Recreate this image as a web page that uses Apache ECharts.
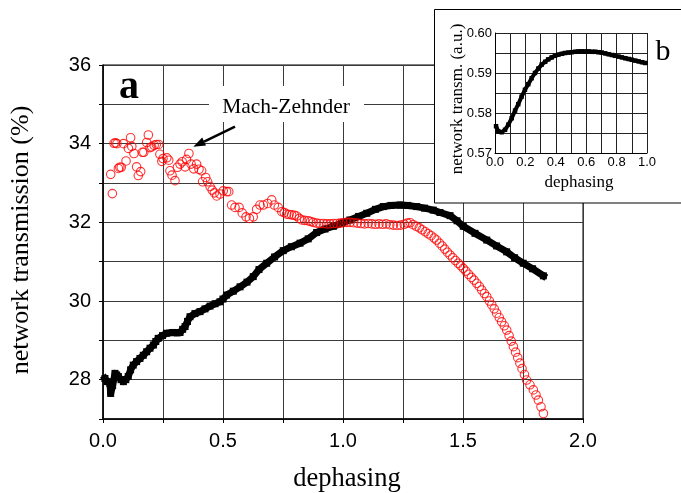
<!DOCTYPE html>
<html>
<head>
<meta charset="utf-8">
<script src="https://cdn.jsdelivr.net/npm/echarts@6/dist/echarts.min.js"></script>
<style>html,body{margin:0;padding:0;background:#fff}#c{width:681px;height:493px}</style>
</head>
<body>
<div id="c"></div>
<script>
// Main panel (a): Mach-Zehnder reference (red circles) and network (black squares)
const machZehnder = [[0.032,33.22],[0.039,32.73],[0.046,34.01],[0.052,34.02],[0.058,34.0],[0.064,33.37],[0.07,33.4],[0.076,33.4],[0.085,34.0],[0.096,33.56],[0.106,33.88],[0.115,34.15],[0.12,33.93],[0.129,33.75],[0.14,33.41],[0.147,33.19],[0.157,33.29],[0.164,33.78],[0.17,33.78],[0.182,34.03],[0.189,34.22],[0.196,33.9],[0.203,33.92],[0.213,33.96],[0.222,33.98],[0.232,33.98],[0.237,33.73],[0.245,33.55],[0.25,33.62],[0.266,33.64],[0.274,33.58],[0.279,33.31],[0.2875,33.2],[0.3,33.06],[0.31,33.4],[0.321,33.48],[0.33,33.54],[0.342,33.41],[0.348,33.6],[0.358,33.75],[0.367,33.48],[0.378,33.36],[0.39,33.48],[0.4,33.35],[0.411,33.31],[0.415,33.03],[0.428,33.14],[0.436,33.03],[0.446,32.91],[0.455,32.82],[0.464,32.75],[0.474,32.67],[0.4875,32.72],[0.501,32.8],[0.515,32.78],[0.524,32.78],[0.536,32.44],[0.55,32.38],[0.567,32.38],[0.58,32.24],[0.596,32.14],[0.61,32.1],[0.626,32.14],[0.64,32.33],[0.654,32.44],[0.668,32.44],[0.686,32.48],[0.703,32.57],[0.714,32.44],[0.73,32.38],[0.745,32.27],[0.755,32.25],[0.765,32.21],[0.775,32.2],[0.786,32.19],[0.797,32.18],[0.807,32.16],[0.818,32.1],[0.828,32.06],[0.84,32.05],[0.855,32.04],[0.865,32.02],[0.876,32.0],[0.89,31.98],[0.904,31.97],[0.918,31.97],[0.932,31.96],[0.946,31.96],[0.96,31.97],[0.974,31.97],[0.988,31.98],[1.0,31.99],[1.015,32.0],[1.03,32.0],[1.045,31.99],[1.06,31.98],[1.075,31.97],[1.09,31.96],[1.105,31.97],[1.12,31.96],[1.135,31.95],[1.15,31.96],[1.165,31.95],[1.18,31.96],[1.195,31.94],[1.21,31.93],[1.225,31.92],[1.24,31.93],[1.255,31.95],[1.268,31.98],[1.28,31.99],[1.292,31.94],[1.305,31.9],[1.318,31.86],[1.33,31.81],[1.343,31.76],[1.355,31.71],[1.367,31.66],[1.38,31.6],[1.39,31.55],[1.402,31.47],[1.413,31.4],[1.424,31.32],[1.435,31.24],[1.446,31.17],[1.457,31.1],[1.468,31.03],[1.48,30.96],[1.49,30.9],[1.501,30.83],[1.512,30.76],[1.523,30.68],[1.535,30.6],[1.546,30.53],[1.557,30.45],[1.568,30.37],[1.578,30.28],[1.589,30.19],[1.599,30.11],[1.61,30.0],[1.62,29.9],[1.63,29.8],[1.64,29.69],[1.651,29.58],[1.661,29.47],[1.672,29.37],[1.682,29.26],[1.692,29.12],[1.701,28.98],[1.71,28.84],[1.719,28.7],[1.728,28.56],[1.737,28.42],[1.746,28.28],[1.756,28.13],[1.765,27.99],[1.779,27.87],[1.793,27.74],[1.804,27.61],[1.814,27.48],[1.825,27.31],[1.835,27.14]];

const network = [[0.008,28.03],[0.018,27.95],[0.029,27.9],[0.032,27.65],[0.04,27.85],[0.05,28.16],[0.057,28.12],[0.064,28.08],[0.075,28.0],[0.085,27.95],[0.095,28.0],[0.105,28.08],[0.115,28.25],[0.126,28.37],[0.14,28.46],[0.154,28.54],[0.168,28.62],[0.182,28.71],[0.196,28.8],[0.21,28.88],[0.22,28.97],[0.23,29.05],[0.248,29.12],[0.265,29.18],[0.29,29.2],[0.31,29.19],[0.321,29.2],[0.332,29.28],[0.342,29.35],[0.352,29.48],[0.3625,29.6],[0.383,29.68],[0.404,29.73],[0.425,29.8],[0.446,29.87],[0.467,29.93],[0.4875,29.98],[0.5,30.05],[0.515,30.15],[0.543,30.25],[0.571,30.36],[0.6,30.48],[0.626,30.62],[0.65,30.8],[0.682,30.96],[0.715,31.12],[0.751,31.28],[0.785,31.38],[0.821,31.47],[0.855,31.58],[0.89,31.74],[0.925,31.83],[0.96,31.9],[0.995,31.98],[1.029,32.06],[1.065,32.15],[1.099,32.23],[1.135,32.33],[1.168,32.4],[1.2,32.43],[1.2375,32.44],[1.27,32.43],[1.307,32.4],[1.34,32.36],[1.376,32.31],[1.404,32.25],[1.446,32.17],[1.475,32.04],[1.501,31.9],[1.55,31.72],[1.599,31.55],[1.64,31.4],[1.682,31.25],[1.715,31.1],[1.751,30.96],[1.79,30.82],[1.835,30.64]];

// Inset panel (b)
const insetX = [0.007,0.022,0.044,0.066,0.088,0.11,0.132,0.153,0.175,0.197,0.219,0.241,0.263,0.285,0.307,0.33,0.35,0.373,0.395,0.417,0.44,0.46,0.483,0.505,0.527,0.55,0.57,0.593,0.615,0.637,0.66,0.68,0.703,0.725,0.747,0.77,0.79,0.813,0.835,0.857,0.88,0.9,0.923,0.945,0.967,0.99];
const insetY = [0.5767,0.5754,0.5752,0.5758,0.5771,0.5787,0.5806,0.5822,0.5841,0.5858,0.5872,0.5887,0.59,0.5911,0.5921,0.5928,0.5934,0.5939,0.5943,0.5946,0.5948,0.595,0.5951,0.5952,0.5953,0.5954,0.5954,0.5954,0.5954,0.5953,0.5953,0.5952,0.5951,0.5949,0.5947,0.5945,0.5943,0.5941,0.5939,0.5937,0.5935,0.5933,0.5931,0.5929,0.5927,0.5925];

const mainXTicks = ['0.0','0.5','1.0','1.5','2.0'];
const mainYTicks = ['28','30','32','34','36'];

const SANS = 'Liberation Sans';
const chart = echarts.init(document.getElementById('c'), null, {renderer:'canvas'});

const tip = [193.3,146.7], tail = [235,126.7];
const dx = tip[0]-tail[0], dy = tip[1]-tail[1], L = Math.hypot(dx,dy);
const ux = dx/L, uy = dy/L, hl = 12, hw = 4.5;
const bx = tip[0]-hl*ux, by = tip[1]-hl*uy;

chart.setOption({
  animation:false,
  backgroundColor:'#fff',
  grid:[
    {left:103, top:65, width:480, height:354, show:true, borderColor:'#000', borderWidth:1, backgroundColor:'transparent'},
    {left:495, top:33, width:152, height:120, z:60}
  ],
  xAxis:[
    {gridIndex:0, type:'value', min:0, max:2, interval:0.25,
     axisLine:{lineStyle:{color:'#000', width:1.5}},
     axisTick:{show:true, length:4, lineStyle:{color:'#000'}},
     splitLine:{show:true, lineStyle:{color:'#3a3a3a', width:1}},
     axisLabel:{margin:12, color:'#000', fontFamily:SANS, fontSize:20,
       formatter:v=>{const k=Math.round(v*2); return Math.abs(v*2-k)<1e-6 ? mainXTicks[k] : '';}}},
    {gridIndex:1, type:'value', min:0, max:1, interval:0.1, z:61,
     axisLine:{lineStyle:{color:'#000', width:1}},
     axisTick:{show:false},
     splitLine:{show:true, lineStyle:{color:'#222', width:1}},
     axisLabel:{margin:3, color:'#000', fontFamily:SANS, fontSize:13,
       formatter:v=>{const k=Math.round(v*10); return k%2===0 ? (k/10).toFixed(1) : '';}}}
  ],
  yAxis:[
    {gridIndex:0, type:'value', min:27, max:36, interval:1,
     axisLine:{show:true, lineStyle:{color:'#000', width:1.5}},
     axisTick:{show:true, length:4, lineStyle:{color:'#000'}},
     splitLine:{show:true, lineStyle:{color:'#3a3a3a', width:1}},
     axisLabel:{margin:12, color:'#000', fontFamily:SANS, fontSize:20,
       formatter:v=>{const r=Math.round(v); return (r%2===0) ? mainYTicks[(r-28)/2] : '';}}},
    {gridIndex:1, type:'value', min:0.57, max:0.60, interval:0.005, z:61,
     axisLine:{show:true, lineStyle:{color:'#000', width:1}},
     axisTick:{show:false},
     splitLine:{show:true, lineStyle:{color:'#222', width:1}},
     axisLabel:{margin:3, color:'#000', fontFamily:SANS, fontSize:13,
       formatter:v=>{const k=Math.round(v*1000); return k%10===0 ? (k/1000).toFixed(2) : '';}}}
  ],
  series:[
    {type:'line', xAxisIndex:0, yAxisIndex:0, data:network, z:3,
     lineStyle:{color:'#000', width:7, join:'round', cap:'square'}, symbol:'rect', symbolSize:7, showAllSymbol:true,
     itemStyle:{color:'#000'}},
    {type:'scatter', xAxisIndex:0, yAxisIndex:0, data:machZehnder, z:4,
     symbol:'circle', symbolSize:8.5,
     itemStyle:{color:'rgba(255,255,255,0)', borderColor:'#ff0000', borderWidth:1.1}},
    {type:'line', xAxisIndex:1, yAxisIndex:1, z:62,
     data:insetX.map((x,i)=>[x, insetY[i]]),
     lineStyle:{color:'#000', width:4, join:'round'}, symbol:'rect', symbolSize:4.5, showAllSymbol:true,
     itemStyle:{color:'#000'}}
  ],
  graphic:[
    {type:'rect', z:50, shape:{x:434.5, y:9.5, width:300, height:193.5},
     style:{fill:'#fff', stroke:'#000', lineWidth:1}},
    {type:'text', z:55, x:663, y:52, style:{text:'b', font:'30px "Liberation Serif"', fill:'#000', textAlign:'center', textVerticalAlign:'middle'}},
    {type:'text', z:55, x:458, y:99, rotation:Math.PI/2, style:{text:'network transm. (a.u.)', font:'17px "Liberation Serif"', fill:'#000', textAlign:'center', textVerticalAlign:'middle'}},
    {type:'text', z:55, x:579, y:183, style:{text:'dephasing', font:'17px "Liberation Serif"', fill:'#000', textAlign:'center', textVerticalAlign:'middle'}},
    {type:'text', z:20, x:129, y:88, style:{text:'a', font:'bold 40px "Liberation Serif"', fill:'#000', textAlign:'center', textVerticalAlign:'middle'}},
    {type:'rect', z:20, shape:{x:209, y:86, width:155, height:36}, style:{fill:'#fff'}},
    {type:'text', z:21, x:286, y:107, style:{text:'Mach-Zehnder', font:'21.5px "Liberation Serif"', fill:'#000', textAlign:'center', textVerticalAlign:'middle'}},
    {type:'line', z:21, shape:{x1:tail[0], y1:tail[1], x2:bx, y2:by}, style:{stroke:'#000', lineWidth:2.5}},
    {type:'polygon', z:21, shape:{points:[[tip[0],tip[1]],[bx - hw*uy, by + hw*ux],[bx + hw*uy, by - hw*ux]]}, style:{fill:'#000'}},
    {type:'text', z:20, x:21, y:240, rotation:Math.PI/2, style:{text:'network transmission (%)', font:'26px "Liberation Serif"', fill:'#000', textAlign:'center', textVerticalAlign:'middle'}},
    {type:'text', z:20, x:347, y:479, style:{text:'dephasing', font:'26.5px "Liberation Serif"', fill:'#000', textAlign:'center', textVerticalAlign:'middle'}}
  ]
});
</script>
</body>
</html>
